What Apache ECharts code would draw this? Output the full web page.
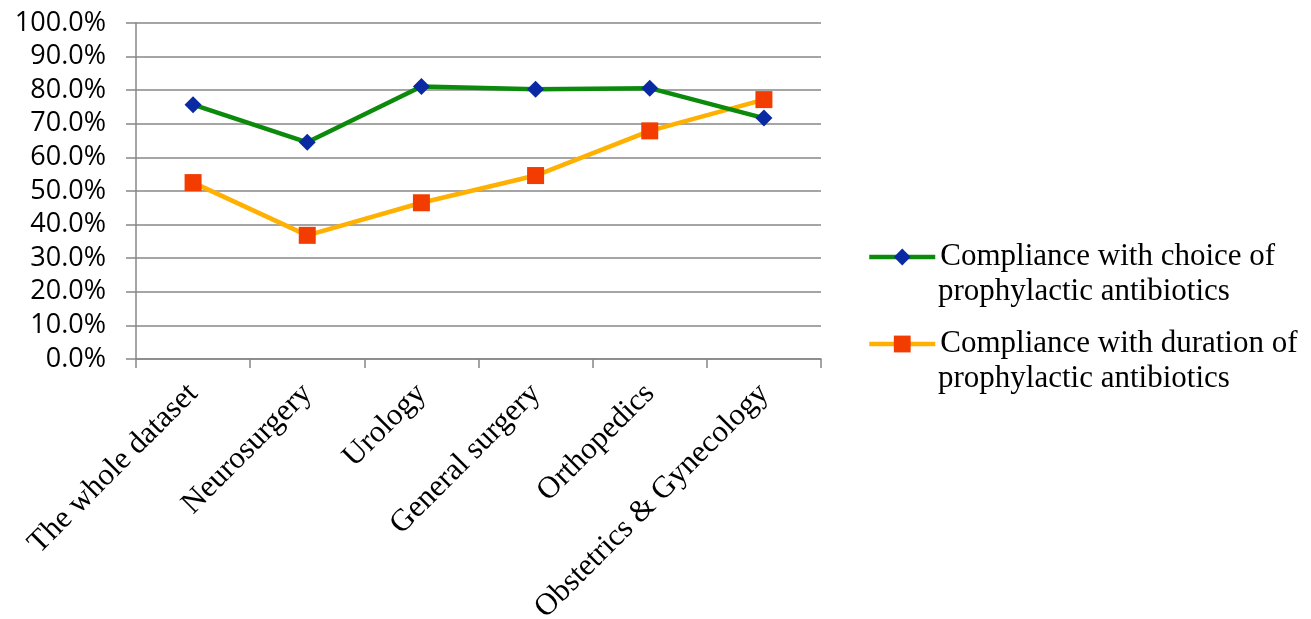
<!DOCTYPE html>
<html>
<head>
<meta charset="utf-8">
<style>
  html, body { margin: 0; padding: 0; background: #ffffff; }
  #chart { width: 1311px; height: 619px; }
</style>
<script src="https://cdn.jsdelivr.net/npm/echarts@6/dist/echarts.min.js"></script>
</head>
<body>
<div id="chart"></div>
<script>
// Surgical departments on the x axis
const categories = ['The whole dataset', 'Neurosurgery', 'Urology', 'General surgery', 'Orthopedics', 'Obstetrics & Gynecology'];

// Compliance rates, in percent
const choiceCompliance = [75.7, 64.5, 81.1, 80.3, 80.6, 71.7];
const durationCompliance = [52.5, 36.8, 46.5, 54.6, 67.9, 77.2];

const seriesNames = ['Compliance with choice of', 'Compliance with duration of'];
const legendSecondLine = 'prophylactic antibiotics';

const serif = '"Liberation Serif", "Times New Roman", serif';
const sans = '"Open Sans", "Noto Sans", sans-serif';
const axisGrey = '#878787';
const legendFontSize = 31;

const chart = echarts.init(document.getElementById('chart'), null, { renderer: 'canvas' });

chart.setOption({
  animation: false,
  backgroundColor: '#ffffff',
  grid: { left: 136, right: 490, top: 23, bottom: 260, containLabel: false, outerBoundsMode: 'none' },
  xAxis: {
    type: 'category',
    data: categories,
    boundaryGap: true,
    axisLine: { show: true, lineStyle: { color: axisGrey, width: 1.5 } },
    axisTick: { show: true, length: 9, inside: false, lineStyle: { color: axisGrey, width: 1.5 } },
    axisLabel: {
      interval: 0,
      rotate: 45,
      margin: 30,
      color: '#000000',
      fontFamily: serif,
      fontSize: 31
    },
    splitLine: { show: false }
  },
  yAxis: {
    type: 'value',
    min: 0,
    max: 100,
    interval: 10,
    axisLine: { show: true, lineStyle: { color: axisGrey, width: 1.5 } },
    axisTick: { show: true, length: 10, inside: false, lineStyle: { color: axisGrey, width: 1.5 } },
    axisLabel: {
      margin: 30,
      color: '#000000',
      fontFamily: sans,
      fontSize: 27,
      formatter: v => v.toFixed(1) + '%'
    },
    splitLine: { show: true, lineStyle: { color: axisGrey, width: 1.5 } }
  },
  legend: {
    orient: 'vertical',
    left: 862,
    top: 235,
    itemWidth: 66,
    itemHeight: 21,
    itemGap: 53,
    data: seriesNames,
    lineStyle: { width: 4.5 },
    textStyle: {
      color: '#000000',
      fontFamily: serif,
      fontSize: legendFontSize,
      lineHeight: 34
    }
  },
  // second line of each legend entry
  graphic: [
    {
      type: 'text',
      x: 938,
      y: 292,
      style: { text: legendSecondLine, fill: '#000000', font: legendFontSize + 'px ' + serif, verticalAlign: 'middle' }
    },
    {
      type: 'text',
      x: 938,
      y: 378.5,
      style: { text: legendSecondLine, fill: '#000000', font: legendFontSize + 'px ' + serif, verticalAlign: 'middle' }
    }
  ],
  series: [
    {
      name: seriesNames[0],
      type: 'line',
      data: choiceCompliance,
      symbol: 'diamond',
      symbolSize: 17,
      lineStyle: { color: '#0B8A0B', width: 4.5 },
      itemStyle: { color: '#0A2AA3' },
      z: 3
    },
    {
      name: seriesNames[1],
      type: 'line',
      data: durationCompliance,
      symbol: 'rect',
      symbolSize: 17,
      lineStyle: { color: '#FFB000', width: 4.5 },
      itemStyle: { color: '#F23C00' },
      z: 2
    }
  ]
});
</script>
</body>
</html>
